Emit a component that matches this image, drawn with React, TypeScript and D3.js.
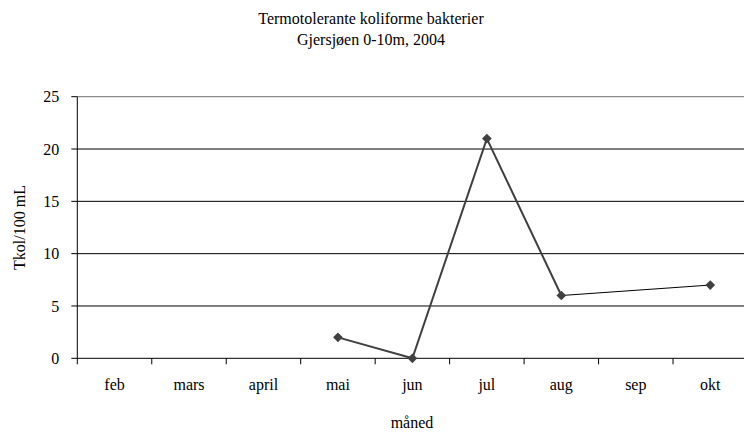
import React from "react";
import * as d3 from "d3";

const months = ["feb", "mars", "april", "mai", "jun", "jul", "aug", "sep", "okt"];
const mainSeries: { m: string; v: number }[] = [
  { m: "mai", v: 2 },
  { m: "jun", v: 0 },
  { m: "jul", v: 21 },
  { m: "aug", v: 6 },
];
const tailSeries: { m: string; v: number }[] = [
  { m: "aug", v: 6 },
  { m: "okt", v: 7 },
];
const markerPoints: { m: string; v: number }[] = [
  { m: "mai", v: 2 },
  { m: "jun", v: 0 },
  { m: "jul", v: 21 },
  { m: "aug", v: 6 },
  { m: "okt", v: 7 },
];
const yTicks = [0, 5, 10, 15, 20, 25];

const W = 744;
const H = 432;
const left = 77.3;
const right = 747.5;
const top = 96.7;
const bottom = 358.3;
const font = "'Liberation Serif', 'Times New Roman', serif";

export default function App() {
  const x = d3.scaleBand<string>().domain(months).range([left, right]).padding(0);
  const y = d3.scaleLinear().domain([0, 25]).range([bottom, top]);
  const cx = (m: string) => (x(m) as number) + x.bandwidth() / 2;
  const line = d3
    .line<{ m: string; v: number }>()
    .x((d) => cx(d.m))
    .y((d) => y(d.v));
  const diamond = d3.symbol().type(d3.symbolDiamond2 ?? d3.symbolDiamond).size(60)();
  const boundaries = months.map((m) => x(m) as number);

  return (
    <svg width={W} height={H} style={{ position: "absolute", left: 0, top: 0, background: "#fff" }} fontFamily={font}>
      <text x={371} y={24} textAnchor="middle" fontSize={16}>
        Termotolerante koliforme bakterier
      </text>
      <text x={371} y={45} textAnchor="middle" fontSize={16}>
        Gjersjøen 0-10m, 2004
      </text>

      {yTicks.filter((t) => t > 0).map((t) => (
        <line key={"g" + t} x1={left} x2={right} y1={y(t)} y2={y(t)} stroke={t === 25 ? "#707070" : "#000"} strokeWidth={1} />
      ))}
      {yTicks.map((t) => (
        <g key={"yt" + t}>
          <line x1={left - 6} x2={left} y1={y(t)} y2={y(t)} stroke="#000" />
          <text x={left - 18} y={y(t)} dy="0.35em" textAnchor="end" fontSize={16}>
            {t}
          </text>
        </g>
      ))}
      <line x1={left} x2={left} y1={top} y2={bottom} stroke="#000" />
      <line x1={left} x2={right} y1={bottom} y2={bottom} stroke="#000" />
      {boundaries.map((b, i) => (
        <line key={"xt" + i} x1={b} x2={b} y1={bottom} y2={bottom + 6} stroke="#000" />
      ))}
      {months.map((m) => (
        <text key={m} x={cx(m)} y={390} textAnchor="middle" fontSize={16}>
          {m}
        </text>
      ))}
      <text x={412} y={428} textAnchor="middle" fontSize={16}>
        måned
      </text>
      <text transform={`translate(25,${(top + bottom) / 2}) rotate(-90)`} textAnchor="middle" fontSize={16}>
        Tkol/100 mL
      </text>

      <path d={line(mainSeries) || ""} fill="none" stroke="#404040" strokeWidth={2} />
      <path d={line(tailSeries) || ""} fill="none" stroke="#000" strokeWidth={1} />
      {markerPoints.map((p) => (
        <path key={"mk" + p.m} d={diamond || ""} transform={`translate(${cx(p.m)},${y(p.v)})`} fill="#404040" />
      ))}
    </svg>
  );
}
